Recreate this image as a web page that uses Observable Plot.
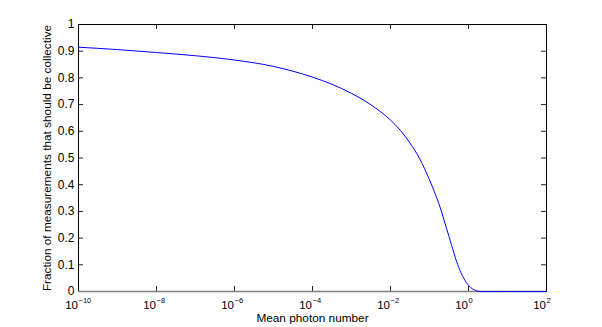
<!DOCTYPE html>
<html>
<head>
<meta charset="utf-8">
<script src="https://cdn.jsdelivr.net/npm/d3@7"></script>
<script src="https://cdn.jsdelivr.net/npm/@observablehq/plot@0.6"></script>
<style>
  html, body { margin: 0; padding: 0; background: #fff; }
  svg { font-family: "Liberation Sans", Arial, Helvetica, sans-serif; }
</style>
</head>
<body>
<div id="chart"></div>
<script>
// Data
const meanPhotonNumber = [1e-10, 1e-9, 1e-8, 1e-7, 1e-6, 1e-5, 3.162e-5, 1e-4, 3.162e-4, 1e-3, 3.162e-3, 1e-2, 0.01778, 0.03162, 0.05623, 0.1, 0.1778, 0.3162, 0.5623, 1, 1.259, 1.585, 1.995, 10, 100];
const collectiveFraction = [0.915, 0.906, 0.895, 0.883, 0.867, 0.843, 0.825, 0.803, 0.776, 0.742, 0.699, 0.642, 0.604, 0.556, 0.497, 0.418, 0.325, 0.206, 0.090, 0.023, 0.010, 0.003, 0, 0, 0];

const xTicks = [1e-10, 1e-8, 1e-6, 1e-4, 1e-2, 1e0, 1e2];
const xTickExponents = ["\u221210", "\u22128", "\u22126", "\u22124", "\u22122", "0", "2"];
const yTicks = [0, 0.1, 0.2, 0.3, 0.4, 0.5, 0.6, 0.7, 0.8, 0.9, 1];
const yTickLabels = ["0", "0.1", "0.2", "0.3", "0.4", "0.5", "0.6", "0.7", "0.8", "0.9", "1"];

const xLabel = "Mean photon number";
const yLabel = "Fraction of measurements that should be collective";

const curve = meanPhotonNumber.map((x, i) => ({x, y: collectiveFraction[i]}));
const xt = xTicks.map((x, i) => ({x, e: xTickExponents[i]}));
const yt = yTicks.map((y, i) => ({y, label: yTickLabels[i]}));

const W = 602, H = 327;
const mL = 78, mR = 56, mT = 24, mB = 36;
const fw = W - mL - mR, fh = H - mT - mB;
const tick = 5;
const font = "'Liberation Sans', Arial, Helvetica, sans-serif";

const chart = Plot.plot({
  width: W,
  height: H,
  marginLeft: mL,
  marginRight: mR,
  marginTop: mT,
  marginBottom: mB,
  style: {fontFamily: font, background: "white"},
  x: {type: "log", domain: [1e-10, 1e2], axis: null},
  y: {domain: [0, 1], axis: null},
  marks: [
    // inward ticks
    Plot.tickX(xt, {x: "x", insetTop: fh - tick, stroke: "#222", strokeWidth: 1}),
    Plot.tickX(xt, {x: "x", insetBottom: fh - tick, stroke: "#222", strokeWidth: 1}),
    Plot.tickY(yt, {y: "y", insetRight: fw - tick, stroke: "#222", strokeWidth: 1}),
    Plot.tickY(yt, {y: "y", insetLeft: fw - tick, stroke: "#222", strokeWidth: 1}),
    Plot.frame({stroke: "black", strokeWidth: 1}),
    Plot.ruleY([0], {stroke: "#808080", strokeWidth: 1.6}),
    // curve
    Plot.line(curve, {x: "x", y: "y", stroke: "#0000ff", strokeWidth: 1, curve: "monotone-x"}),
    // x tick labels: base and exponent
    Plot.text(xt, {x: "x", text: () => "10", frameAnchor: "bottom", textAnchor: "end", dx: -0.5, dy: 17, lineAnchor: "bottom", fontSize: 11.5, fill: "black"}),
    Plot.text(xt, {x: "x", text: "e", frameAnchor: "bottom", textAnchor: "start", dx: 0, dy: 11.5, lineAnchor: "bottom", fontSize: 7.5, fill: "black"}),
    // y tick labels
    Plot.text(yt, {y: "y", text: "label", frameAnchor: "left", textAnchor: "end", dx: -4, fontSize: 12, fill: "black"}),
    // axis titles
    Plot.text([xLabel], {text: d => d, frameAnchor: "bottom", textAnchor: "middle", dy: 30.5, fontSize: 11.8, fill: "black"}),
    Plot.text([yLabel], {text: d => d, frameAnchor: "left", textAnchor: "middle", dx: -31, rotate: -90, fontSize: 11.8, fill: "black"})
  ]
});

document.getElementById("chart").appendChild(chart);
</script>
</body>
</html>
